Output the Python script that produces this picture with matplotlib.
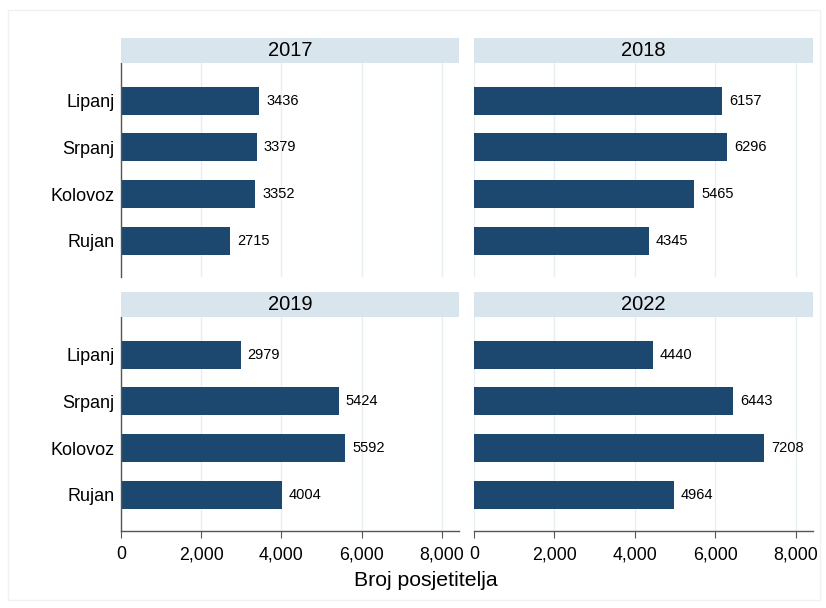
import matplotlib
matplotlib.use("Agg")
import matplotlib.pyplot as plt
from matplotlib.patches import Rectangle
from matplotlib.ticker import FuncFormatter

plt.rcParams['font.family'] = ['Liberation Sans', 'DejaVu Sans']

months = ["Lipanj", "Srpanj", "Kolovoz", "Rujan"]
years = ["2017", "2018", "2019", "2022"]
values = {
    "2017": [3436, 3379, 3352, 2715],
    "2018": [6157, 6296, 5465, 4345],
    "2019": [2979, 5424, 5592, 4004],
    "2022": [4440, 6443, 7208, 4964],
}
xticks = [0, 2000, 4000, 6000, 8000]
xlabel = "Broj posjetitelja"

W, H = 826, 608
fig = plt.figure(figsize=(W / 100, H / 100), dpi=100)
fig.patch.set_facecolor("white")

# faint outer frame
fig.add_artist(Rectangle((8 / W, 1 - 600 / H), (820 - 8) / W, (600 - 10) / H,
                         transform=fig.transFigure, fill=False,
                         edgecolor="#eef2f4", lw=1))

bar_color = "#1c4870"
strip_color = "#d9e5ec"
grid_color = "#e6eef2"
axis_color = "#555555"

cols = [(121, 459), (474, 813)]
rows = [(38, 63, 277), (292, 317, 531)]

for i, yr in enumerate(years):
    r, c = divmod(i, 2)
    x0, x1 = cols[c]
    st, yt, yb = rows[r]
    ax = fig.add_axes([x0 / W, 1 - yb / H, (x1 - x0) / W, (yb - yt) / H])
    # strip
    fig.add_artist(Rectangle((x0 / W, 1 - yt / H), (x1 - x0) / W, (yt - st) / H,
                             transform=fig.transFigure, facecolor=strip_color,
                             edgecolor="none"))
    fig.text((x0 + x1) / 2 / W, 1 - (st + yt) / 2 / H, yr, ha="center",
             va="center", fontsize=14.5, color="black")
    ypos = list(range(len(months)))
    vals = values[yr]
    ax.barh(ypos, vals, height=0.6, color=bar_color, zorder=2)
    for y, v in zip(ypos, vals):
        ax.text(v + 180, y, str(v), va="center", ha="left", fontsize=10.5,
                color="black", zorder=3)
    ax.set_xlim(0, 8424)
    ax.set_ylim(3.78, -0.81)
    ax.set_xticks(xticks)
    ax.xaxis.set_major_formatter(FuncFormatter(lambda x, p: f"{int(x):,}"))
    ax.grid(axis="x", color=grid_color, lw=1, zorder=0)
    ax.set_axisbelow(True)
    for s in ax.spines.values():
        s.set_visible(False)
    ax.set_yticks(ypos)
    if c == 0:
        ax.set_yticklabels(months, fontsize=13)
        ax.spines["left"].set_visible(True)
        ax.spines["left"].set_color(axis_color)
        ax.spines["left"].set_linewidth(1)
    else:
        ax.set_yticklabels([])
    ax.tick_params(axis="y", length=0, pad=4.5)
    if r == 1:
        ax.spines["bottom"].set_visible(True)
        ax.spines["bottom"].set_color(axis_color)
        ax.spines["bottom"].set_linewidth(1)
        ax.tick_params(axis="x", length=5, color=axis_color, labelsize=12.8, pad=6)
    else:
        ax.tick_params(axis="x", length=0, labelbottom=False)

fig.text(426 / W, 1 - 581 / H, xlabel, ha="center", va="center", fontsize=15.3)

fig.savefig("out.png", dpi=100, facecolor="white")
